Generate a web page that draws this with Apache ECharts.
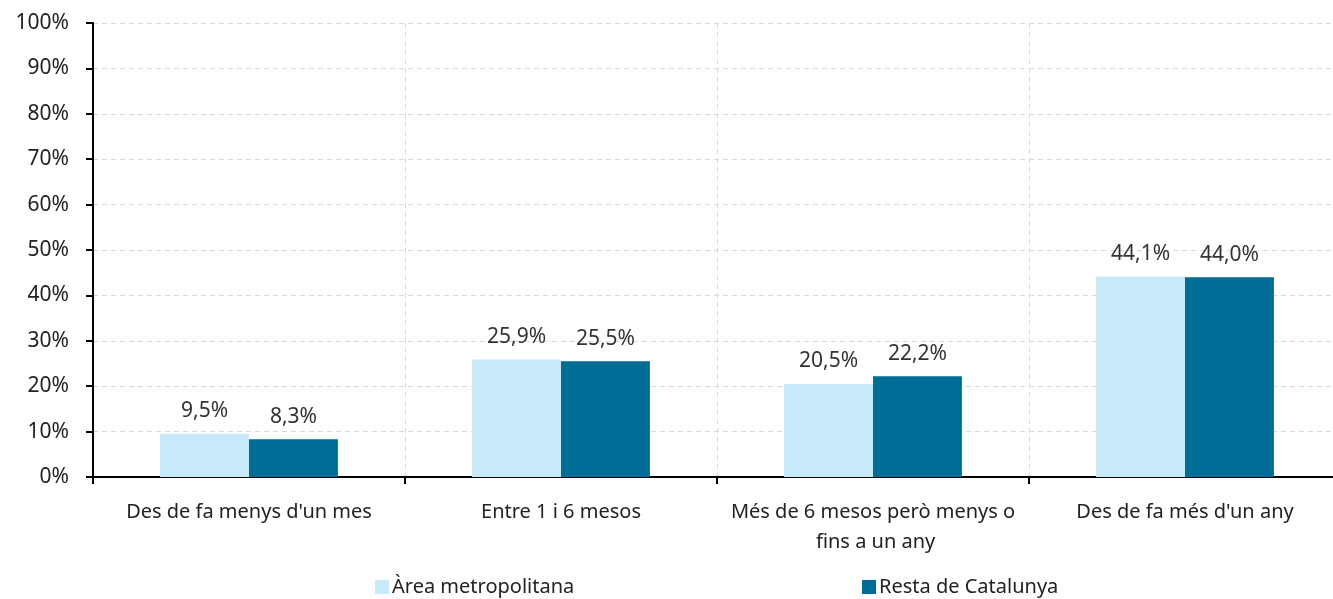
<!DOCTYPE html>
<html><head><meta charset="utf-8">
<script src="https://cdn.jsdelivr.net/npm/echarts@6/dist/echarts.min.js"></script>
<style>html,body{margin:0;padding:0;background:#fff;overflow:hidden}#c{width:1341px;height:599px}</style>
</head><body><div id="c"></div>
<script>
const categories = ["Des de fa menys d'un mes", "Entre 1 i 6 mesos", "Més de 6 mesos però menys o fins a un any", "Des de fa més d'un any"];
const seriesNames = ["Àrea metropolitana", "Resta de Catalunya"];
const areaMetro = [9.5, 25.9, 20.5, 44.1];
const restaCat = [8.3, 25.5, 22.2, 44.0];
const yTicks = [0, 10, 20, 30, 40, 50, 60, 70, 80, 90, 100];

const FONT = '"Noto Sans", sans-serif';
const FS = 20;
const NFS = 21;
const fmt = v => v.toFixed(1).replace('.', ',') + '%';
const chart = echarts.init(document.getElementById('c'));
chart.setOption({
  animation: false,
  textStyle: { fontFamily: FONT },
  grid: { left: 93, top: 23, right: 0, bottom: 122, containLabel: false, outerBoundsMode: 'none' },
  legend: [
    { data: [seriesNames[0]], left: 370, top: 572, itemWidth: 14, itemHeight: 14, icon: 'rect', itemGap: 4,
      textStyle: { fontFamily: FONT, fontSize: FS, color: '#222', padding: [0, 0, 0, -2] } },
    { data: [seriesNames[1]], left: 857, top: 572, itemWidth: 14, itemHeight: 14, icon: 'rect', itemGap: 4,
      textStyle: { fontFamily: FONT, fontSize: FS, color: '#222', padding: [0, 0, 0, -2] } }
  ],
  xAxis: {
    type: 'category', data: categories,
    axisLine: { lineStyle: { color: '#000', width: 2 } },
    axisTick: { show: true, length: 7, lineStyle: { color: '#000', width: 2 } },
    splitLine: { show: true, lineStyle: { color: '#d9d9d9', type: [5, 4], width: 1 } },
    axisLabel: { fontFamily: FONT, fontSize: FS, color: '#222', margin: 20, lineHeight: 30,
      width: 306, overflow: 'break', interval: 0 }
  },
  yAxis: {
    type: 'value', min: 0, max: 100, interval: 10,
    axisLine: { show: true, lineStyle: { color: '#000', width: 2 } },
    axisTick: { show: true, length: 7, lineStyle: { color: '#000', width: 2 } },
    splitLine: { show: true, lineStyle: { color: '#d9d9d9', type: [5, 4], width: 1 } },
    axisLabel: { fontFamily: FONT, fontSize: NFS, color: '#222', margin: 24,
      formatter: v => yTicks.includes(v) ? v + '%' : '' }
  },
  series: [
    { name: seriesNames[0], type: 'bar', data: areaMetro, barGap: '0%', barCategoryGap: '43%',
      itemStyle: { color: '#c7e9f9' },
      label: { show: true, position: 'top', distance: 12, formatter: p => fmt(p.value),
        fontFamily: FONT, fontSize: NFS, color: '#333' } },
    { name: seriesNames[1], type: 'bar', data: restaCat, barGap: '0%', barCategoryGap: '43%',
      itemStyle: { color: '#006d96' },
      label: { show: true, position: 'top', distance: 12, formatter: p => fmt(p.value),
        fontFamily: FONT, fontSize: NFS, color: '#333' } }
  ]
});
</script></body></html>
